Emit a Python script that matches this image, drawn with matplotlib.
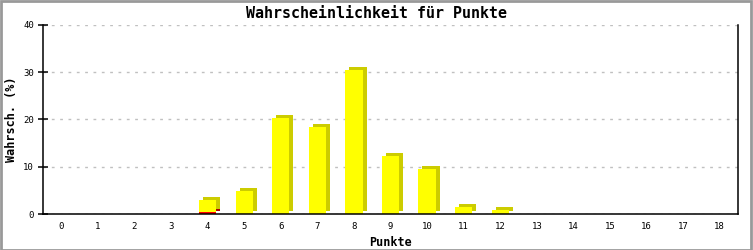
import matplotlib
matplotlib.use("Agg")
import matplotlib.pyplot as plt
from matplotlib.transforms import ScaledTranslation
from matplotlib.patches import Rectangle

# data
punkte = list(range(19))
gelb = [0, 0, 0, 0, 2.65, 4.8, 20.4, 18.5, 30.4, 12.2, 9.5, 1.4, 0.8, 0, 0, 0, 0, 0, 0]
rot = [0, 0, 0, 0, 0.35, 0, 0, 0, 0, 0, 0, 0, 0, 0, 0, 0, 0, 0, 0]
yticks = [0, 10, 20, 30, 40]

W, H, DPI = 753, 250, 100
fig = plt.figure(figsize=(W / DPI, H / DPI), dpi=DPI)
ax = fig.add_axes([43 / W, 36 / H, 695 / W, 189 / H])

mono = "DejaVu Sans Mono"
barw = 0.47

# 3d look: shifted dark copy behind the front bars
shift = ax.transData + ScaledTranslation(4 / DPI, 3 / DPI, fig.dpi_scale_trans)
ax.bar(punkte, rot, width=barw, color="#b00000", transform=shift, zorder=2)
ax.bar(punkte, gelb, width=barw, bottom=rot, color="#cccc00", transform=shift, zorder=2)
ax.bar(punkte, rot, width=barw, color="#ff0000", zorder=3)
ax.bar(punkte, gelb, width=barw, bottom=rot, color="#ffff00", zorder=3)

ax.set_xlim(-0.5, 18.5)
ax.set_ylim(0, 40)
ax.set_xticks(punkte)
ax.set_xticklabels([str(p) for p in punkte], fontfamily=mono, fontsize=6.5)
ax.set_yticks(yticks)
ax.set_yticklabels([str(v) for v in yticks], fontfamily=mono, fontsize=6.5)
ax.tick_params(axis="x", length=0, pad=6)
ax.tick_params(axis="y", direction="inout", length=7, width=1.1, pad=3)

ax.grid(axis="y", color="#c0c0c0", linestyle=(0, (2, 4)), linewidth=1)
ax.set_axisbelow(True)
for s in ["left", "right", "bottom"]:
    ax.spines[s].set_linewidth(1.1)
    ax.spines[s].set_zorder(5)
ax.spines["top"].set_visible(False)

ax.set_xlabel("Punkte", fontfamily=mono, fontweight="bold", fontsize=8.5, labelpad=3)
ax.set_ylabel("Wahrsch. (%)", fontfamily=mono, fontweight="bold", fontsize=8.5, labelpad=4)
fig.text(0.5, 1 - 14 / H, "Wahrscheinlichkeit für Punkte", ha="center", va="center",
         fontfamily=mono, fontweight="bold", fontsize=10.8)

# gray frame around the picture
fig.patches.append(Rectangle((0.001, 0.002), 0.997, 0.994, transform=fig.transFigure,
                             fill=False, edgecolor="#999999", linewidth=2))

fig.savefig("out.png", dpi=DPI)
